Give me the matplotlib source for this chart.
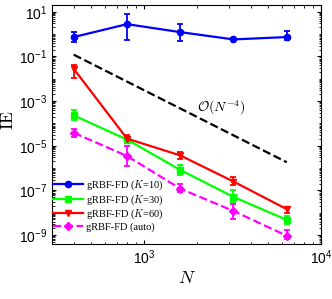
import numpy as np
import matplotlib
matplotlib.use("Agg")
import matplotlib.pyplot as plt
from matplotlib.lines import Line2D

plt.rcParams['font.family'] = ['Liberation Sans', 'DejaVu Sans']
plt.rcParams['mathtext.fontset'] = 'custom'
plt.rcParams['mathtext.rm'] = 'Liberation Sans'
plt.rcParams['mathtext.it'] = 'Liberation Sans:italic'
plt.rcParams['mathtext.bf'] = 'Liberation Sans:bold'

N = [400, 800, 1600, 3200, 6400]

k10 = [0.74, 2.8, 1.23, 0.58, 0.74]
k10_lo = [0.43, 0.52, 0.49, 0.52, 0.52]
k10_hi = [1.3, 7.9, 2.9, 0.65, 1.4]

k30 = [2.3e-4, 1.9e-5, 8.3e-7, 5.1e-8, 4.8e-9]
k30_lo = [1.5e-4, 1.4e-5, 4.8e-7, 2.9e-8, 3.1e-9]
k30_hi = [4.2e-4, 2.6e-5, 1.33e-6, 1.05e-7, 7.2e-9]

k60 = [2.8e-2, 2.1e-5, 3.7e-6, 2.5e-7, 1.45e-8]
k60_lo = [1.1e-2, 1.5e-5, 2.5e-6, 1.7e-7, 1.0e-8]
k60_hi = [4.3e-2, 3.0e-5, 5.2e-6, 4.2e-7, 1.9e-8]

auto = [3.8e-5, 3.5e-6, 1.2e-7, 1.2e-8, 9.3e-10]
auto_lo = [2.5e-5, 1.3e-6, 8.5e-8, 5.1e-9, 6.6e-10]
auto_hi = [5.8e-5, 1.0e-5, 1.9e-7, 2.4e-8, 1.66e-9]

ref_N = [400, 6400]
ref_E = [0.12, 0.12 * (400 / 6400) ** 4]

labels = [r'gRBF-FD ($K$=10)', r'gRBF-FD ($K$=30)', r'gRBF-FD ($K$=60)', r'gRBF-FD (auto)']

fig = plt.figure(figsize=(3.32, 2.99), dpi=100)
ax = fig.add_axes([0.157, 0.184, 0.81, 0.799])

series = [
    (k10, k10_lo, k10_hi, '#0000ff', 'o', '-'),
    (k30, k30_lo, k30_hi, '#00ff00', 's', '-'),
    (k60, k60_lo, k60_hi, '#ff0000', 'v', '-'),
    (auto, auto_lo, auto_hi, '#ff00ff', 'D', '--'),
]
handles = []
for (y, lo, hi, c, m, ls), lab in zip(series, labels):
    y = np.array(y); lo = np.array(lo); hi = np.array(hi)
    yerr = np.vstack([y - lo, hi - y])
    ms = 4.5 if m != 'D' else 3.8
    ax.errorbar(N, y, yerr=yerr, color=c, marker=m, ls=ls, lw=1.6,
                ms=ms, capsize=2.5, elinewidth=1.3, capthick=1.3)
    handles.append(Line2D([], [], color=c, marker=m, ls=ls, lw=1.6, ms=ms, label=lab))

ax.plot(ref_N, ref_E, 'k--', lw=1.6)
ax.text(1990, 5e-4, r'$\mathcal{O}(N^{-4})$', fontsize=10, va='center',
        ha='left', math_fontfamily='cm')

ax.set_xscale('log')
ax.set_yscale('log')
ax.set_xlim(302, 1e4)
ax.set_ylim(4e-10, 2e1)
ax.set_yticks([1e1, 1e-1, 1e-3, 1e-5, 1e-7, 1e-9])
ax.set_xticks([1e3, 1e4])
ax.tick_params(which='both', direction='in', top=True, right=True, labelsize=10)
ax.tick_params(which='major', length=3)
ax.tick_params(which='minor', length=1.8)
ax.yaxis.set_minor_locator(matplotlib.ticker.LogLocator(base=10, subs=np.arange(1, 10), numticks=30))
ax.yaxis.set_minor_formatter(matplotlib.ticker.NullFormatter())

ax.set_xlabel(r'$N$', fontsize=13, math_fontfamily='cm', labelpad=2)
ax.set_ylabel(r'$\mathrm{IE}$', fontsize=12.5, math_fontfamily='cm')
ax.yaxis.set_label_coords(-0.165, 0.52)
ax.yaxis.label.set_va('center')

leg = ax.legend(handles=handles, loc='lower left', frameon=False,
                prop={'family': 'Liberation Serif', 'size': 7.5},
                handlelength=2.9, handletextpad=0.25, labelspacing=0.12,
                borderaxespad=0.0, borderpad=0.1, bbox_to_anchor=(0.0, 0.045))
for t in leg.get_texts():
    t.set_math_fontfamily('cm')

fig.savefig('out.png', dpi=100)
